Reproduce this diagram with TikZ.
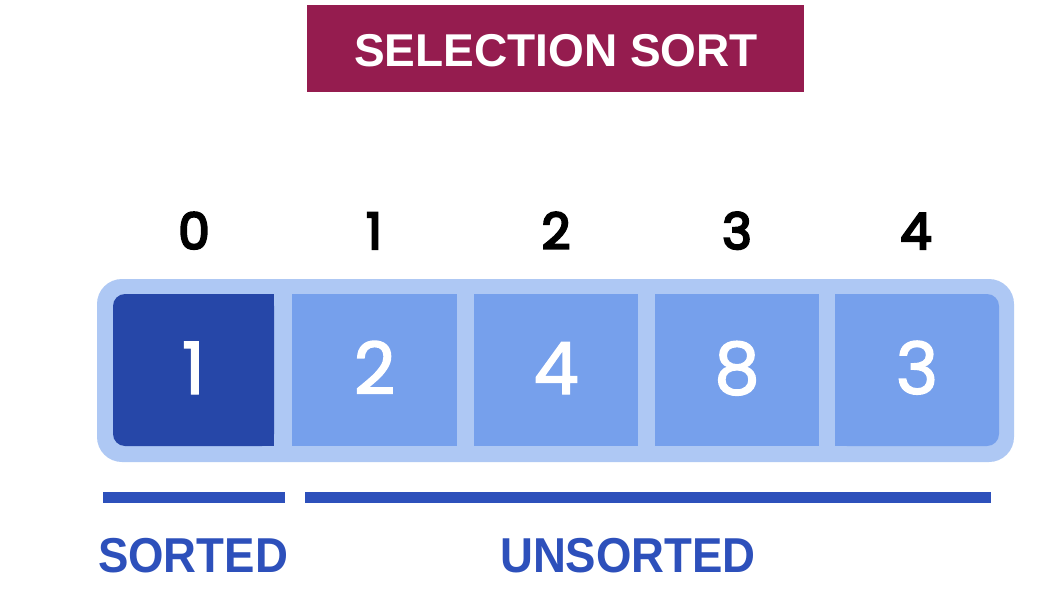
\documentclass[tikz,border=0pt]{standalone}
\usepackage{fontspec}
\setmainfont{Liberation Sans}
\newfontfamily\popsemi[FakeBold=4.5]{Poppins}
\newfontfamily\popmed[FakeBold=2]{Poppins}
\definecolor{titlebg}{HTML}{951C4F}
\definecolor{outerbg}{HTML}{AEC8F4}
\definecolor{darkcell}{HTML}{2647A8}
\definecolor{lightcell}{HTML}{76A0EC}
\definecolor{markblue}{HTML}{2D50BB}
\tikzset{
  idx/.style={anchor=base, font=\popsemi\fontsize{50}{50}\selectfont, text=black, inner sep=0pt},
  val/.style={anchor=base, font=\popmed\fontsize{72}{72}\selectfont, text=white, inner sep=0pt},
  part/.style={anchor=base, font=\bfseries\fontsize{49}{49}\selectfont, text=markblue, inner sep=0pt, xscale=0.93},
  bar/.style={fill=markblue},
}
\begin{document}
\begin{tikzpicture}[x=1pt,y=-1pt]
\useasboundingbox (0,0) rectangle (1046,596);
\fill[white] (0,0) rectangle (1046,596);
% title
\fill[titlebg] (307,5) rectangle (804,92);
\node[anchor=base, font=\bfseries\fontsize{46}{46}\selectfont, text=white, inner sep=0pt] (title) at (556,67) {SELECTION SORT};
% array container
\fill[outerbg, rounded corners=25pt] (97,279) rectangle (1014,462);
% cells
\fill[darkcell, rounded corners=12pt] (113,294) rectangle (274,446);
\fill[darkcell] (200,294) rectangle (274,446);
\fill[lightcell] (292,294) rectangle (457,446);
\fill[lightcell] (474,294) rectangle (638,446);
\fill[lightcell] (655,294) rectangle (819,446);
\fill[lightcell, rounded corners=12pt] (835,294) rectangle (999,446);
\fill[lightcell] (835,294) rectangle (900,446);
% indices
\node[idx] (i0) at (194,249) {0};
\node[idx] (i1) at (374,249) {1};
\node[idx] (i2) at (556,249) {2};
\node[idx] (i3) at (737,249) {3};
\node[idx] (i4) at (916,249) {4};
% values
\node[val] (v0) at (193.5,394) {1};
\node[val] (v1) at (374.5,394) {2};
\node[val] (v2) at (556,394) {4};
\node[val] (v3) at (737,394) {8};
\node[val] (v4) at (917,394) {3};
% partition bars
\fill[bar] (103,492) rectangle (285,503);
\fill[bar] (305,492) rectangle (991,503);
\node[part] (sorted) at (193,572) {SORTED};
\node[part] (unsorted) at (628,572) {UNSORTED};
\end{tikzpicture}
\end{document}
